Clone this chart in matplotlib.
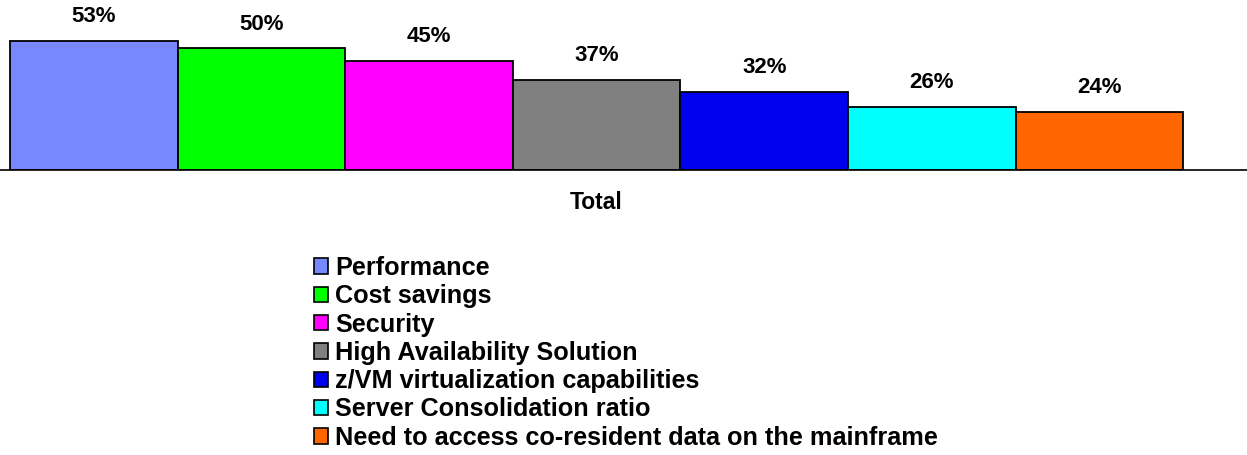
import matplotlib.pyplot as plt
from matplotlib.patches import Patch

plt.rcParams['font.family'] = ['Liberation Sans', 'DejaVu Sans']
plt.rcParams['font.weight'] = 'bold'

categories = ['Performance', 'Cost savings', 'Security', 'High Availability Solution',
              'z/VM virtualization capabilities', 'Server Consolidation ratio',
              'Need to access co-resident data on the mainframe']
values = [53, 50, 45, 37, 32, 26, 24]
colors = ['#7788FF', '#00FF00', '#FF00FF', '#808080', '#0000EE', '#00FFFF', '#FF6600']

fig = plt.figure(figsize=(12.47, 4.55), dpi=100)
ax = fig.add_axes([0, 285 / 455, 1, 170 / 455])

bw = 167.6
xs = [i for i in range(len(values))]
ax.bar(xs, values, width=1, align='edge', color=colors, edgecolor='black', linewidth=1.3)
for x, v in zip(xs, values):
    ax.annotate(f'{v}%', (x + 0.5, v), xytext=(0, 10), textcoords='offset points',
                ha='center', va='bottom', fontsize=16, fontweight='bold')

ax.set_xlim(-10 / bw, (1247 - 10) / bw)
ax.set_ylim(0, 170 / 2.43)
for s in ['top', 'right', 'left']:
    ax.spines[s].set_visible(False)
ax.spines['bottom'].set_linewidth(1.2)
ax.set_yticks([])
ax.set_xticks([len(values) / 2])
ax.set_xticklabels(['Total'], fontsize=16.5, fontweight='bold')
ax.tick_params(axis='x', length=0, pad=15)

handles = [Patch(facecolor=c, edgecolor='black', linewidth=1.2) for c in colors]
fig.legend(handles, categories, loc='upper left', bbox_to_anchor=(314 / 1247, 1 - 256 / 455),
           frameon=False, prop={'size': 18.2, 'weight': 'bold'},
           handlelength=0.56, handleheight=0.56, handletextpad=0.28,
           labelspacing=0.17, borderpad=0, borderaxespad=0)

fig.savefig('out.png', dpi=100)
